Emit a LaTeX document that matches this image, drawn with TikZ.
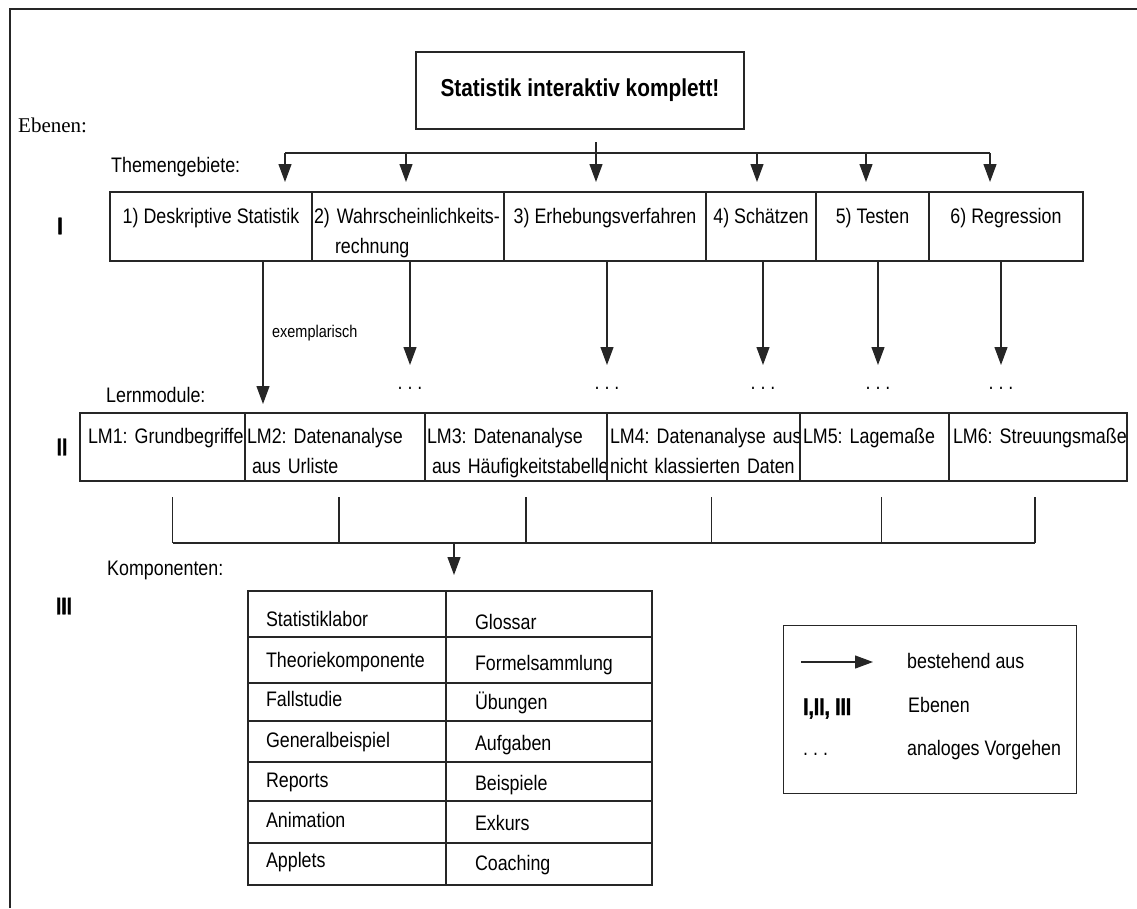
\documentclass[tikz,border=0pt]{standalone}
\usepackage{fontspec}
\usetikzlibrary{arrows.meta,positioning,calc}
\newfontfamily\sansfont{Liberation Sans}[FakeStretch=0.85]
\newfontfamily\serifont{Liberation Serif}
\newfontfamily\heavyfont{Liberation Sans Bold}[FakeStretch=0.8,FakeBold=1.5]
\newcommand\stdfont{\sansfont\fontsize{21}{30}\selectfont}
\frenchspacing
\colorlet{linecol}{black!85}
\tikzset{
  conn/.style={draw=linecol, line width=1.2pt},
  arr/.style={conn, -{Triangle[length=18pt,width=13pt]}},
  txt/.style={font=\stdfont, inner sep=0pt},
  small/.style={font=\sansfont\fontsize{17}{20}\selectfont, inner sep=0pt},
  lvl/.style={font=\heavyfont\fontsize{24}{24}\selectfont, inner sep=0pt},
  dotsnode/.style={txt},
  cell/.style={txt, conn, outer sep=0pt, minimum height=69pt, text height=31pt, text depth=38pt},
  lmcell/.style={txt, conn, outer sep=0pt, minimum height=68pt, text height=30pt, text depth=38pt, align=left},
  kcell/.style={txt, conn, outer sep=0pt, anchor=north west, align=left}
}
\begin{document}
\begin{tikzpicture}[x=1pt,y=-1pt]
\useasboundingbox (0,0) rectangle (1137,908);
\draw[conn, line width=1.5pt] (10,908) -- (10,9) -- (1137,9);

% top
\node[conn, minimum width=328pt, minimum height=77pt, inner sep=0pt,
  font=\sansfont\bfseries\fontsize{24.5}{24.5}\selectfont] (title) at (580,90.5) {Statistik interaktiv komplett!};
\node[font=\serifont\fontsize{21}{21}\selectfont, inner sep=0pt, anchor=base west] (ebenen) at (18,132) {Ebenen:};
\node[txt, anchor=base west] (themen) at (111,172) {Themengebiete:};

% level I
\node[lvl] (lvl1) at (60,226) {I};
\node[cell, minimum width=202pt, anchor=north west] (t1) at (110,192) {1) Deskriptive Statistik};
\node[cell, minimum width=192pt, text width=188pt, align=left, right=0pt of t1] (t2) {\mbox{2) Wahrscheinlichkeits-}\\\hspace*{21pt}rechnung};
\node[cell, minimum width=202pt, right=0pt of t2] (t3) {3) Erhebungsverfahren};
\node[cell, minimum width=110pt, right=0pt of t3] (t4) {4) Schätzen};
\node[cell, minimum width=113pt, right=0pt of t4] (t5) {5) Testen};
\node[cell, minimum width=154pt, right=0pt of t5] (t6) {6) Regression};

\coordinate (stem) at (596,142);
\coordinate (d1) at (285,153);
\coordinate (d2) at (406,153);
\coordinate (d3) at (596,153);
\coordinate (d4) at (757,153);
\coordinate (d5) at (866,153);
\coordinate (d6) at (990,153);
\draw[conn] (stem) -- (d3);
\draw[conn] (d1) -- (d6);
\foreach \i in {1,...,6}
  \draw[arr, shorten >=10pt] (d\i) -- (d\i |- t1.north);

% down to the modules
\coordinate (ex) at (263,404);
\draw[arr] (t1.south -| ex) -- (ex);
\node[small, anchor=west] (exlabel) at (272,333) {exemplarisch};
\node[dotsnode] (m2) at (410,388) {. . .};
\node[dotsnode] (m3) at (607,388) {. . .};
\node[dotsnode] (m4) at (763,388) {. . .};
\node[dotsnode] (m5) at (878,388) {. . .};
\node[dotsnode] (m6) at (1001,388) {. . .};
\foreach \m/\t in {m2/t2,m3/t3,m4/t4,m5/t5,m6/t6}
  \draw[arr, shorten >=23pt] (\t.south -| \m) -- (\m.center);

% level II
\node[txt, anchor=base west] (lern) at (106,402) {Lernmodule:};
\node[lvl] (lvl2) at (62,447) {II};
\node[lmcell, minimum width=165pt, text width=149pt, anchor=north west] (lm1) at (80,413) {\mbox{LM1: Grundbegriffe}};
\node[lmcell, minimum width=180pt, text width=176pt, right=0pt of lm1] (lm2) {\mbox{LM2: Datenanalyse}\\\mbox{\hspace*{5pt}aus Urliste}};
\node[lmcell, minimum width=182pt, text width=178pt, right=0pt of lm2] (lm3) {\mbox{LM3: Datenanalyse}\\\mbox{\hspace*{5pt}aus Häufigkeitstabelle}};
\node[lmcell, minimum width=193pt, text width=187pt, right=0pt of lm3] (lm4) {\mbox{LM4: Datenanalyse aus}\\\mbox{nicht klassierten Daten}};
\node[lmcell, minimum width=149pt, text width=143pt, right=0pt of lm4] (lm5) {\mbox{LM5: Lagemaße}};
\node[lmcell, minimum width=178pt, text width=170pt, right=0pt of lm5] (lm6) {\mbox{LM6: Streuungsmaße}};

\foreach \m/\dx in {lm1/10,lm2/4,lm3/10,lm4/8,lm5/7,lm6/-3} {
  \coordinate (b\m) at ($(\m.south)+(\dx,62)$);
  \draw[conn] ($(\m.south)+(\dx,16)$) -- (b\m);
}
\draw[conn] (blm1) -- (blm6);

% level III
\node[txt, anchor=base west] (komp) at (107,575) {Komponenten:};
\node[lvl] (lvl3) at (64,606) {III};
\foreach \ktop/\ka/\kd/\kleft/\kright [count=\i] in {
    591/35/11/Statistiklabor/Glossar,
    637/30/16/Theoriekomponente/Formelsammlung,
    683/23/15/Fallstudie/Übungen,
    721/26/15/Generalbeispiel/Aufgaben,
    762/25/14/Reports/Beispiele,
    801/26/16/Animation/Exkurs,
    843/24/18/Applets/Coaching} {
  \node[kcell, minimum width=198pt, text width=162pt, text height=\ka pt, text depth=\kd pt] (kl\i) at (248,\ktop) {\kleft};
  \node[kcell, minimum width=206pt, text width=148pt, text height=\ka pt+3pt, text depth=\kd pt-3pt, right=0pt of kl\i] (kr\i) {\kright};
}
\coordinate (join) at (454,543);
\draw[arr, shorten >=16pt] (join) -- (join |- kl1.north);

% legend
\node[conn, minimum width=293pt, minimum height=168pt, anchor=north west] (legend) at (783,625) {};
\coordinate (la) at (801,662);
\coordinate (lb) at (873,662);
\draw[arr] (la) -- (lb);
\node[txt, anchor=base west] (leg1) at (907,668) {bestehend aus};
\node[lvl, anchor=base west] (legsym) at (803,715) {I,II, III};
\node[txt, anchor=base west] (leg2) at (908,712) {Ebenen};
\node[txt, anchor=base west] (legdots) at (803,755) {. . .};
\node[txt, anchor=base west] (leg3) at (907,755) {analoges Vorgehen};
\end{tikzpicture}
\end{document}
